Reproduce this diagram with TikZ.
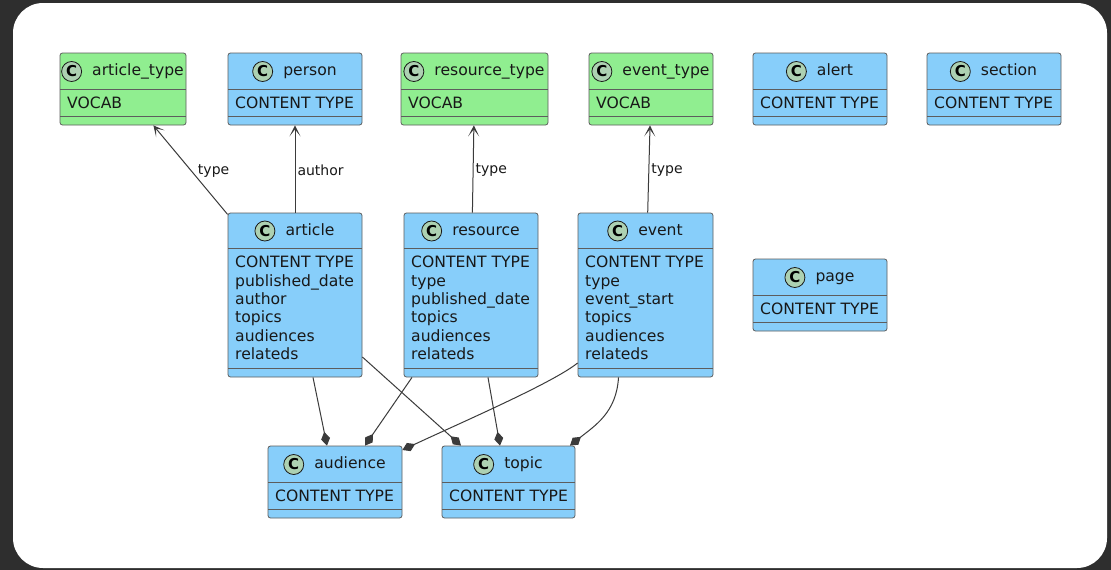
\documentclass[tikz,border=0pt]{standalone}
\usepackage{fontspec}
\setmainfont{DejaVu Sans}
\usetikzlibrary{arrows.meta,positioning}
\definecolor{vocabgreen}{HTML}{90EE90}
\definecolor{ctblue}{HTML}{87CEFA}
\definecolor{circgreen}{HTML}{ADD1B2}
\definecolor{linegray}{HTML}{181818}
\definecolor{bgdark}{HTML}{2E2E2E}
\tikzset{
  classbox/.style={draw=linegray!70, line width=0.8pt, rounded corners=2.5pt, inner sep=0pt},
  sepline/.style={draw=linegray!70, line width=0.8pt},
  titletext/.style={inner sep=0pt, text height=11pt, text depth=3pt, text=linegray, font=\fontsize{15.6}{18.4}\selectfont},
  ccircle/.style={circle, draw=linegray, line width=0.8pt, fill=circgreen, minimum size=20pt, inner sep=0pt, font=\fontsize{15}{18}\selectfont\bfseries},
  fieldtext/.style={anchor=north west, inner sep=0pt, align=left, text=linegray, font=\fontsize{15.6}{18.4}\selectfont},
  assoc/.style={draw=linegray!85, line width=1pt, -{Stealth[length=11pt,width=11pt,inset=7pt]}},
  comp/.style={draw=linegray!85, line width=1pt, -{Diamond[length=14pt,width=9pt]}},
  elabel/.style={anchor=west, inner sep=2pt, text=linegray, font=\fontsize{14}{16}\selectfont}
}
% #1 name, #2 left, #3 top, #4 right, #5 bottom, #6 fill, #7 title, #8 header line y, #9 fields
\newcommand\umlclass[9]{%
  \node[classbox, fill=#6, minimum width={#4-#2}, minimum height={#5-#3}] (#1) at ({(#2+#4)/2},{(#3+#5)/2}) {};
  \draw[sepline] (#2,#8) -- (#4,#8);
  \draw[sepline] (#2,#5-8.5) -- (#4,#5-8.5);
  \node[titletext] (#1-t) at ({(#2+#4)/2+15},{(#3+#8)/2+0.5}) {#7};
  \node[ccircle, left=10pt of #1-t] (#1-c) {C};
  \node[fieldtext] (#1-f) at (#2+7,#8+7.5) {\rule{0pt}{12pt}#9};
}
\begin{document}
\begin{tikzpicture}[x=1pt,y=-1pt]
\useasboundingbox (0,0) rectangle (1111,570);
\fill[bgdark] (0,0) rectangle (1111,570);
\fill[white, rounded corners=30pt] (13,3) rectangle (1107,568);

\umlclass{article_type}{60}{53}{186}{125}{vocabgreen}{article\_type}{89}{VOCAB}
\umlclass{person}{228}{53}{362}{125}{ctblue}{person}{89}{CONTENT TYPE}
\umlclass{resource_type}{401}{53}{548}{125}{vocabgreen}{resource\_type}{89}{VOCAB}
\umlclass{event_type}{589}{53}{713}{125}{vocabgreen}{event\_type}{89}{VOCAB}
\umlclass{alert}{753}{53}{887}{125}{ctblue}{alert}{89}{CONTENT TYPE}
\umlclass{section}{927}{53}{1061}{125}{ctblue}{section}{89}{CONTENT TYPE}

\umlclass{article}{228}{213}{362}{377}{ctblue}{article}{248}{CONTENT TYPE\\published\_date\\author\\topics\\audiences\\relateds}
\umlclass{resource}{404}{213}{538}{377}{ctblue}{resource}{248}{CONTENT TYPE\\type\\published\_date\\topics\\audiences\\relateds}
\umlclass{event}{578}{213}{713}{377}{ctblue}{event}{248}{CONTENT TYPE\\type\\event\_start\\topics\\audiences\\relateds}
\umlclass{page}{753}{259}{887}{331}{ctblue}{page}{295}{CONTENT TYPE}

\umlclass{audience}{268}{446}{402}{518}{ctblue}{audience}{482}{CONTENT TYPE}
\umlclass{topic}{442}{446}{575}{518}{ctblue}{topic}{482}{CONTENT TYPE}

% associations
\draw[assoc] (article) -- node[elabel, xshift=5pt, yshift=-1pt]{type} (article_type);
\draw[assoc] (article) -- node[elabel, yshift=-1pt]{author} (person);
\draw[assoc] (resource) -- node[elabel, yshift=-1pt]{type} (resource_type);
\draw[assoc] (event) -- node[elabel, yshift=-1pt]{type} (event_type);

% compositions
\draw[comp] ([xshift=18pt]article.south) -- ([xshift=-8pt]audience.north);
\draw[comp] ([yshift=-62pt]article.east) -- ([xshift=-47.5pt]topic.north);
\draw[comp] ([xshift=-59pt]resource.south) -- ([xshift=30pt]audience.north);
\draw[comp] ([xshift=17pt]resource.south) -- ([xshift=-8.5pt]topic.north);
\draw[comp] ([yshift=-68pt]event.west) .. controls +(-25,20) and +(60,-28) .. ([yshift=32pt]audience.east);
\draw[comp] ([xshift=-27pt]event.south) .. controls +(-2,35) and +(25,-20) .. ([xshift=61.5pt]topic.north);
\end{tikzpicture}
\end{document}
